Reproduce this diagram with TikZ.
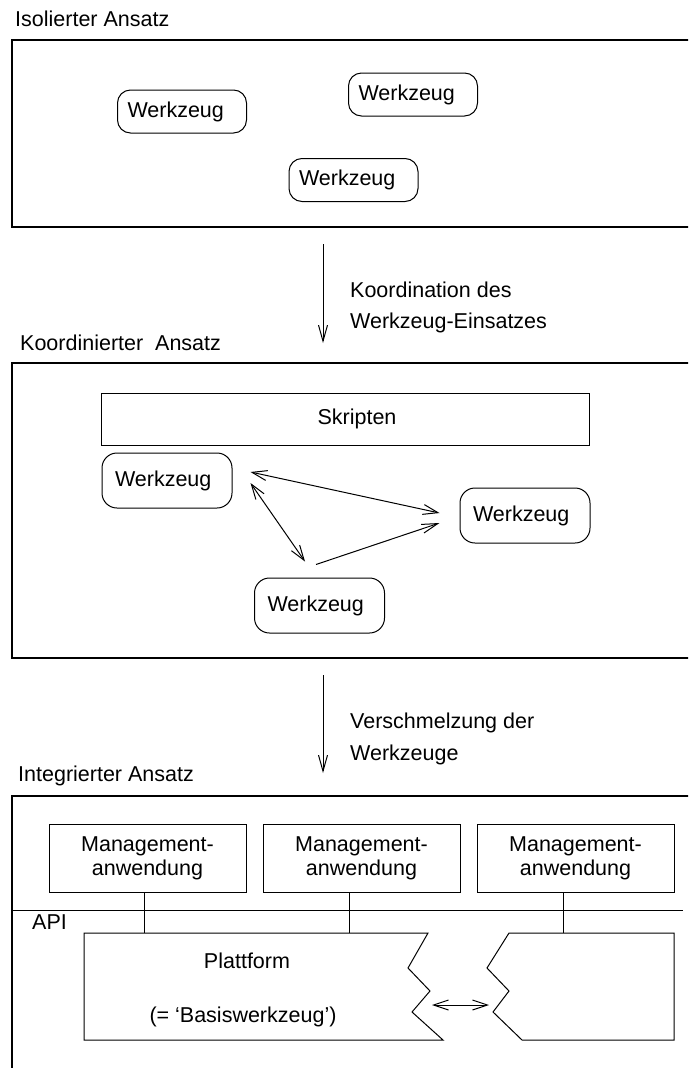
\documentclass[tikz,border=0pt]{standalone}
\usepackage{fontspec}
\setmainfont{Liberation Sans}
\usetikzlibrary{arrows.meta}
\begin{document}
\begin{tikzpicture}[x=1pt, y=-1pt,
  every node/.style={font=\fontsize{21.5}{24}\selectfont, text=black},
  frame/.style={draw, line width=1.2pt},
  outline/.style={draw, line width=1pt},
  tool/.style={outline, rounded corners=13pt, minimum height=43pt,
    inner ysep=0pt, inner xsep=10pt, text width=109pt, align=left},
  ctool/.style={outline, rounded corners=15pt, minimum height=55pt,
    inner ysep=0pt, inner xsep=13pt, text width=104pt, align=left},
  appbox/.style={outline, minimum width=197pt, minimum height=68pt,
    inner sep=0pt, align=center},
  heading/.style={anchor=base west, inner sep=0pt},
  barb/.style={line width=1pt, -{Straight Barb[length=16pt,width=9pt]}},
  dbarb/.style={line width=1pt, {Straight Barb[length=15pt,width=10pt]}-{Straight Barb[length=15pt,width=10pt]}}
]
\useasboundingbox (0,0) rectangle (688,1068);
\clip (0,0) rectangle (688,1068);

% ---------- isolated approach ----------
\node[heading] (h1) at (15,27) {Isolierter Ansatz};
\draw[frame] (12,40) rectangle (700,227);
\node[tool] (t1) at (182,111.5) {Werkzeug};
\node[tool] (t2) at (413,94.5) {Werkzeug};
\node[tool] (t3) at (353.5,180) {Werkzeug};

% transition 1
\coordinate (s1) at (323,244);
\coordinate (e1) at (323,343);
\draw[barb] (s1) -- (e1);
\node[heading] (l1a) at (350,297) {Koordination des};
\node[heading] (l1b) at (350,328) {Werkzeug-Einsatzes};

% ---------- coordinated approach ----------
\node[heading] (h2) at (20,350) {Koordinierter~ Ansatz};
\draw[frame] (12,363) rectangle (700,658);
\node[outline, minimum width=488pt, minimum height=52pt, inner sep=0pt]
  (skr) at (345,419) {\hspace*{24pt}Skripten};
\node[ctool] (wl) at (167,480.5) {Werkzeug};
\node[ctool] (wr) at (525,515.5) {Werkzeug};
\node[ctool] (wb) at (319.5,605.5) {Werkzeug};
\draw[dbarb] ([shift={(18,-8.5)}]wl.east) -- ([shift={(-20,-2.5)}]wr.west);
\draw[dbarb] ([shift={(18,2.5)}]wl.east) -- ([shift={(-14.5,-16)}]wb.north);
\draw[barb] ([shift={(-3.5,-13)}]wb.north) -- ([shift={(-20,7.5)}]wr.west);

% transition 2
\coordinate (s2) at (323,675);
\coordinate (e2) at (323,773);
\draw[barb] (s2) -- (e2);
\node[heading] (l2a) at (350,728) {Verschmelzung der};
\node[heading] (l2b) at (350,760) {Werkzeuge};

% ---------- integrated approach ----------
\node[heading] (h3) at (18,781) {Integrierter Ansatz};
\draw[frame] (12,796) rectangle (700,1090);
\node[appbox] (m1) at (147.5,858) {Management-\\anwendung};
\node[appbox] (m2) at (361.5,858) {Management-\\anwendung};
\node[appbox] (m3) at (575.5,858) {Management-\\anwendung};

% API layer
\coordinate (apiL) at (12,910);
\coordinate (apiR) at (683,910);
\draw[outline] (apiL) -- (apiR);
\node[heading] (api) at (32,929) {API};

% platform with torn edges
\draw[outline] (84,933) -- (428,933) -- (408,968) -- (430,991) -- (412,1012)
  -- (443,1040) -- (84,1040) -- cycle;
\draw[outline] (509,933) -- (674,933) -- (674,1040) -- (522,1040) -- (493,1012)
  -- (509,991) -- (487,968) -- cycle;
\node[anchor=base, inner sep=0pt] (plat) at (247,968) {Plattform};
\node[anchor=base, inner sep=0pt] (basis) at (243,1022) {(= ‘Basiswerkzeug’)};

% applications plugged into the API
\coordinate (p1) at (144,933);
\coordinate (p2) at (349,933);
\coordinate (p3) at (563,933);
\draw[outline] (m1.south -| p1) -- (p1);
\draw[outline] (m2.south -| p2) -- (p2);
\draw[outline] (m3.south -| p3) -- (p3);

% exchange between platform parts
\coordinate (g1) at (432,1005);
\coordinate (g2) at (489,1005);
\draw[dbarb] (g1) -- (g2);
\end{tikzpicture}
\end{document}
